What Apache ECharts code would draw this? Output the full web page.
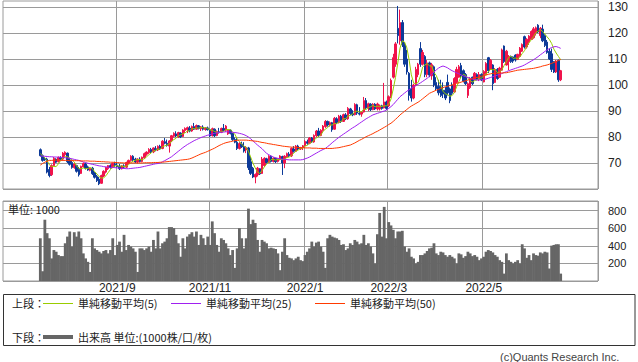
<!DOCTYPE html>
<html><head><meta charset="utf-8">
<script src="https://cdn.jsdelivr.net/npm/echarts@6/dist/echarts.min.js"></script>
<style>html,body{margin:0;padding:0;background:#fff}#c{width:638px;height:362px}</style>
</head><body><div id="c"></div>
<script>
// Trading days per month (Tokyo market calendar)
const tradingMonths = [
  ['2021/7', [12,13,14,15,16,19,20,21,26,27,28,29,30]],
  ['2021/8', [2,3,4,5,6,10,11,12,13,16,17,18,19,20,23,24,25,26,27,30,31]],
  ['2021/9', [1,2,3,6,7,8,9,10,13,14,15,16,17,21,22,24,27,28,29,30]],
  ['2021/10',[1,4,5,6,7,8,11,12,13,14,15,18,19,20,21,22,25,26,27,28,29]],
  ['2021/11',[1,2,4,5,8,9,10,11,12,15,16,17,18,19,22,24,25,26,29,30]],
  ['2021/12',[1,2,3,6,7,8,9,10,13,14,15,16,17,20,21,22,23,24,27,28,29,30]],
  ['2022/1', [4,5,6,7,11,12,13,14,17,18,19,20,21,24,25,26,27,28,31]],
  ['2022/2', [1,2,3,4,7,8,9,10,14,15,16,17,18,21,22,24,25,28]],
  ['2022/3', [1,2,3,4,7,8,9,10,11,14,15,16,17,18,22,23,24,25,28,29,30,31]],
  ['2022/4', [1,4,5,6,7,8,11,12,13,14,15,18,19,20,21,22,25,26,27,28]],
  ['2022/5', [2,6,9,10,11,12,13,16,17,18,19,20,23,24,25,26,27,30,31]],
  ['2022/6', [1,2,3,6,7,8,9,10,13,14,15,16,17,20,21,22]]
];
const labelMonths = ['2021/9','2021/11','2022/1','2022/3','2022/5'];
const emptySlotsBefore = 16, emptySlotsAfter = 16;

const openP = [
75.1,72.8,71.6,71.5,67.5,65.5,69.0,71.5,70.5,72.0,
71.5,73.2,73.8,71.2,70.2,68.2,69.0,67.5,66.0,68.5,
69.6,68.5,67.2,68.0,66.2,64.8,63.8,62.2,65.0,66.5,
67.8,69.0,68.3,69.5,69.2,68.8,67.8,68.9,68.4,70.0,
71.0,72.6,71.5,70.4,71.5,70.6,72.0,73.4,74.0,75.2,
74.3,75.5,75.0,76.4,75.6,78.2,77.6,76.5,78.5,80.3,
81.2,80.0,81.5,80.2,82.5,82.8,83.4,82.3,84.0,83.0,
84.3,83.2,83.8,82.9,83.5,82.8,80.5,83.0,80.6,82.0,
81.8,83.3,82.6,81.2,82.6,81.4,79.0,78.0,75.6,77.3,
76.4,75.0,75.8,70.5,68.0,64.6,65.5,67.8,66.0,69.0,
71.6,70.2,72.6,70.6,71.8,70.6,71.5,72.5,70.0,72.4,
73.4,72.8,75.4,74.5,76.5,75.4,75.9,76.6,78.2,77.6,
79.6,78.1,80.5,82.3,80.6,82.5,84.0,86.0,84.6,85.5,
83.0,87.0,85.6,88.0,86.0,88.5,87.0,90.8,89.0,88.6,
92.4,89.2,88.8,89.6,94.0,91.2,92.6,90.5,92.6,90.8,
90.8,92.0,91.2,93.5,92.0,95.5,103.0,108.0,121.8,117.0,
124.0,115.5,110.0,104.5,98.5,95.0,100.0,104.0,114.0,108.0,
111.0,104.0,108.5,103.5,107.0,101.0,99.5,99.0,98.0,98.0,
101.0,98.5,100.0,97.3,101.0,103.0,107.5,105.5,104.0,96.0,
99.0,103.0,102.0,104.0,102.2,104.0,101.2,104.0,110.5,106.0,
107.7,101.0,106.0,103.0,105.7,115.0,107.7,109.0,111.0,110.8,
111.5,109.8,111.0,113.0,118.6,114.6,116.5,117.5,118.2,120.0,
123.0,119.0,121.5,119.0,116.5,113.0,112.0,109.0,105.0,109.5,
102.0];
const highP = [
75.6,73.3,72.3,72.0,68.5,69.5,72.3,71.8,72.5,72.6,
74.2,74.5,74.0,72.0,71.0,70.0,69.3,68.5,69.0,70.2,
70.1,69.0,68.2,68.5,66.5,65.4,64.6,65.5,67.2,68.5,
69.2,69.5,70.2,70.5,70.3,69.6,69.2,69.5,70.5,71.3,
73.0,73.0,72.0,71.8,72.2,72.5,74.0,74.5,75.7,75.8,
76.0,76.5,76.8,77.0,78.8,79.6,79.0,78.8,80.8,81.8,
82.2,82.0,81.8,83.0,83.7,84.0,84.2,84.4,85.4,84.8,
84.6,84.2,84.5,83.8,84.0,83.2,83.6,83.3,82.5,83.5,
83.6,85.0,84.6,83.0,82.9,81.6,79.8,79.6,78.0,78.2,
78.0,76.5,76.2,72.3,68.5,66.0,68.5,68.0,72.3,72.2,
72.0,73.0,73.0,72.2,72.0,71.8,73.0,72.8,73.0,74.0,
74.2,76.0,76.5,76.9,77.0,76.2,76.9,78.8,79.0,80.0,
80.0,81.0,82.7,83.5,83.0,84.6,86.5,86.3,86.0,85.8,
87.7,87.6,88.5,88.5,89.0,89.2,91.5,91.2,90.3,93.0,
92.8,91.5,90.0,95.4,95.0,93.2,93.0,93.0,93.0,93.2,
92.5,92.4,100.8,94.0,96.0,102.5,112.0,116.5,130.4,129.0,
125.0,116.5,113.5,105.0,102.0,100.5,107.0,108.5,116.5,113.5,
111.5,109.6,109.0,108.5,107.5,103.0,102.0,102.0,101.0,99.2,
104.0,99.0,101.0,103.0,107.0,107.7,108.5,106.0,104.6,101.0,
103.0,103.2,105.0,104.5,105.0,104.5,105.7,108.8,110.8,110.0,
108.0,106.5,106.5,107.0,114.0,115.2,113.5,111.5,111.3,111.0,
111.8,112.0,114.6,116.0,119.0,118.0,119.2,121.0,122.3,122.5,
123.4,122.3,123.2,119.5,117.3,114.0,114.0,109.2,109.6,109.8,
105.8];
const lowP = [
72.5,70.5,70.8,66.0,64.5,65.0,68.8,70.0,70.2,71.2,
71.0,72.4,70.0,69.0,67.8,67.8,66.3,64.8,65.8,68.3,
67.5,67.0,66.8,65.4,64.0,62.7,61.5,62.0,64.6,66.0,
67.3,67.8,68.0,68.5,68.2,67.3,67.5,68.0,68.0,69.5,
70.5,70.8,70.0,69.8,70.2,70.3,71.5,72.8,73.5,73.8,
73.8,74.5,74.6,75.0,75.3,77.2,76.3,74.0,78.0,79.8,
80.0,79.6,79.6,80.0,81.5,81.5,81.8,82.0,82.7,82.8,
82.9,82.3,82.5,82.4,82.5,80.0,80.2,80.0,80.3,81.3,
81.5,82.2,82.0,80.8,81.0,78.5,77.6,75.0,75.2,75.8,
74.0,73.8,67.3,65.4,64.2,62.2,64.8,65.4,65.8,68.5,
69.8,70.0,70.2,70.2,70.0,70.2,71.0,65.4,68.0,72.0,
72.3,72.3,74.0,74.2,75.0,75.0,75.0,75.7,77.0,77.2,
77.7,77.8,80.0,80.0,80.3,82.0,83.5,84.0,84.0,82.0,
82.8,85.0,85.2,85.4,85.8,86.5,86.6,88.5,88.0,88.3,
88.5,88.3,87.8,89.4,90.6,90.0,90.0,90.3,90.4,90.2,
90.2,90.5,91.0,90.4,91.5,95.0,102.5,107.0,116.0,115.5,
114.6,107.0,104.0,94.0,93.6,94.5,99.5,103.0,107.0,107.5,
103.0,103.0,103.0,102.0,99.2,98.0,96.0,95.4,95.0,94.2,
96.0,93.0,96.0,97.0,100.8,102.8,102.7,101.0,100.0,95.0,
98.5,100.0,101.8,101.8,101.5,101.5,101.0,103.8,104.6,105.8,
98.0,100.8,102.0,102.8,105.5,108.5,107.5,105.7,108.5,108.5,
109.0,109.6,110.8,112.7,114.0,114.0,115.4,117.3,117.8,119.0,
120.0,118.0,116.5,114.6,112.0,109.6,105.0,104.6,104.6,101.2,
101.5];
const closeP = [
72.8,71.0,71.2,66.5,65.2,69.0,71.8,70.3,72.2,71.6,
73.8,74.1,70.5,69.5,68.3,69.6,66.8,65.5,68.7,69.8,
68.0,67.3,67.9,65.9,64.5,63.2,62.0,65.2,66.8,68.3,
69.0,68.3,69.8,69.2,68.6,67.8,68.9,68.4,70.2,71.0,
72.6,71.2,70.4,71.5,70.6,72.2,73.6,74.2,75.2,74.3,
75.8,75.0,76.4,75.4,78.4,77.6,76.8,78.5,80.5,81.4,
80.4,81.7,80.1,82.7,83.3,83.6,82.3,84.0,83.0,84.4,
83.3,83.9,83.0,83.5,82.8,80.4,83.2,80.5,82.1,81.8,
83.3,82.6,84.2,82.6,81.4,79.0,78.0,75.6,77.5,76.2,
74.6,76.0,68.2,66.0,64.6,65.6,68.0,65.8,71.5,71.8,
70.2,72.6,70.6,71.8,70.5,71.5,72.7,70.0,72.6,73.6,
72.8,75.6,74.5,76.5,75.4,75.9,76.6,78.3,77.6,79.6,
78.1,80.6,82.3,80.6,82.6,84.2,86.0,84.6,85.5,82.8,
87.2,85.6,88.0,86.0,88.6,87.0,91.0,89.0,88.5,92.5,
89.2,88.8,89.6,94.0,91.2,92.8,90.5,92.6,90.8,92.7,
92.0,91.0,93.5,91.0,95.5,101.8,110.5,115.8,119.0,124.0,
115.5,108.0,105.0,96.0,95.0,100.0,106.0,108.0,108.0,112.5,
104.0,108.5,103.8,107.8,100.0,98.6,97.0,96.0,96.5,95.0,
97.0,94.0,96.8,102.5,106.0,107.0,103.5,101.5,100.5,100.5,
102.5,100.5,104.5,102.2,104.0,102.0,105.2,108.3,105.5,109.5,
100.5,106.0,102.5,106.5,113.5,109.0,113.0,111.0,109.0,109.2,
109.6,111.8,114.2,115.6,114.6,117.6,118.8,120.6,121.6,122.0,
120.4,121.8,117.0,115.2,112.5,110.0,106.0,105.0,109.2,102.0,
105.5];
const volume = [
486,111,697,544,486,257,352,333,295,283,
283,429,505,563,391,555,505,563,486,314,
257,218,103,486,371,352,333,314,341,352,
314,352,486,295,410,448,333,525,352,410,
391,371,333,103,371,371,352,371,391,333,
467,371,563,371,429,448,486,613,613,601,
525,429,276,486,371,505,532,555,505,563,
410,525,486,410,505,410,678,544,410,333,
486,467,429,371,295,352,149,371,601,486,
371,486,823,647,697,659,467,333,467,448,
429,371,379,371,364,314,123,333,486,295,
264,257,237,257,276,237,226,295,333,371,
448,391,437,
448,391,333,149,486,525,505,494,486,467,
410,418,352,371,429,410,467,448,418,429,
525,410,429,391,314,199,532,774,505,843,
486,670,632,582,486,563,563,571,391,333,
371,276,257,199,218,295,295,314,341,371,
379,429,314,295,333,325,295,276,295,276,
257,199,314,303,264,283,333,314,283,295,
276,237,257,276,333,352,341,325,295,276,
237,218,84,314,237,218,199,218,237,199,
418,371,264,295,237,314,295,288,325,314,
333,325,142,402,410,418,418,84];
const ma5 = [
73.6,72.8,72.0,70.8,69.3,68.6,68.7,68.6,69.7,71.0,
71.9,72.4,72.4,71.9,71.2,70.4,68.9,67.9,67.8,68.1,
67.8,67.9,68.3,67.8,66.7,65.8,64.7,64.2,64.3,65.1,
66.3,67.5,68.4,68.9,69.0,68.7,68.9,68.6,68.8,69.3,
70.2,70.7,71.1,71.3,71.3,71.2,71.7,72.4,73.2,73.9,
74.6,74.9,75.3,75.4,76.2,76.6,76.9,77.3,78.4,79.0,
79.5,80.5,80.8,81.3,81.6,82.3,82.4,83.2,83.2,83.5,
83.4,83.7,83.5,83.6,83.3,82.7,82.6,82.1,81.8,81.6,
82.2,82.1,82.8,82.9,82.8,82.0,81.0,79.3,78.3,77.3,
76.4,76.0,74.5,72.2,69.9,68.1,66.5,66.0,67.1,68.5,
69.5,70.4,71.3,71.4,71.1,71.4,71.4,71.3,71.5,72.1,
72.3,72.9,73.8,74.6,75.0,75.6,75.8,76.5,76.8,77.6,
78.0,78.8,79.6,80.2,80.8,82.1,83.1,83.6,84.6,84.6,
85.2,85.1,85.8,85.9,87.1,87.0,88.1,88.3,88.8,89.6,
90.0,89.6,89.7,90.8,90.6,91.3,91.6,92.2,91.6,91.9,
91.7,91.8,92.0,92.0,92.6,94.6,98.5,102.9,108.5,114.2,
117.0,116.5,114.3,109.7,103.9,100.8,100.4,101.0,103.4,106.9,
107.7,108.2,107.4,107.3,104.8,103.7,101.4,99.9,97.6,96.6,
96.3,95.7,95.9,97.1,99.3,101.3,103.2,104.1,103.7,102.6,
101.7,101.1,101.7,102.0,102.7,102.6,103.6,104.3,105.0,106.1,
105.8,106.0,104.8,105.0,105.8,107.5,108.9,110.6,111.1,110.2,
110.4,110.1,110.8,112.1,113.2,114.8,116.2,117.4,118.6,120.1,
120.7,121.3,120.6,119.6,118.5,117.5,116.0,113.8,112.3,111.0,
109.7];
const ma25 = [
72.7,72.6,72.6,72.5,72.4,72.4,72.3,72.3,72.2,72.2,72.1,72.0,71.9,
71.8,71.6,71.4,71.2,71.0,70.7,70.4,70.2,69.9,
69.7,69.5,69.3,69.1,68.9,68.8,68.6,68.5,68.4,68.3,68.3,68.2,
68.1,68.0,67.9,67.9,67.8,67.8,67.9,68.0,68.1,68.2,68.3,
68.5,68.7,68.9,69.1,69.3,69.5,69.7,69.8,70.0,
70.5,70.9,71.4,71.9,72.4,
73.1,73.8,74.5,75.2,75.9,76.5,77.1,77.6,
78.1,78.6,79.0,79.4,79.8,80.1,
80.4,80.7,80.9,81.2,81.4,81.6,81.7,81.8,81.9,82.0,
82.0,81.9,81.8,81.7,81.6,81.4,81.2,80.9,80.5,80.0,
79.3,78.5,77.7,76.9,76.2,75.5,74.6,73.7,
73.2,72.7,72.3,72.0,71.8,71.6,
71.5,71.4,71.3,71.2,71.2,71.2,71.2,71.2,71.2,71.3,
71.6,71.9,72.3,72.8,73.3,73.8,74.3,74.8,75.2,75.6,
76.3,77.0,77.8,78.5,79.2,79.9,
80.5,81.1,81.7,82.3,82.9,83.5,84.0,84.6,
85.2,85.8,86.4,87.0,87.5,88.0,88.5,
88.8,89.1,89.4,89.7,90.0,90.4,
91.0,91.7,92.5,93.5,94.5,95.5,
96.2,96.9,97.6,98.2,98.8,99.3,
99.8,100.3,100.8,101.4,102.0,102.6,
103.4,104.2,105.0,105.8,106.5,107.0,107.3,
107.0,106.6,106.0,105.5,105.1,
104.7,104.3,103.9,103.5,103.2,
102.9,102.6,102.3,102.1,101.9,
101.9,102.0,102.1,102.3,102.6,
102.9,103.2,103.5,103.8,
104.1,104.4,104.8,105.1,105.5,105.8,
106.1,106.4,106.7,107.0,107.3,107.7,
108.2,108.7,109.2,109.7,110.3,110.9,
111.6,112.2,112.9,113.5,
114.0,114.4,114.7,114.8,114.5,114.1];
const ma50 = [
69.2,69.8,70.3,70.7,
71.0,71.0,71.1,71.1,71.1,71.0,71.0,71.0,71.0,70.9,70.9,70.9,70.9,70.9,70.8,70.8,70.8,70.8,70.7,70.7,70.7,70.6,70.6,70.5,70.5,70.4,70.4,
70.3,70.3,70.2,70.2,70.1,70.1,70.0,70.0,70.0,70.0,70.0,70.0,70.0,70.0,70.0,70.1,70.1,70.1,70.1,70.2,70.2,70.2,70.3,70.3,70.4,
70.5,70.6,70.7,70.8,70.9,71.0,71.1,71.2,71.3,71.4,71.6,
71.9,72.3,72.7,73.1,73.5,73.8,74.1,74.5,
74.9,75.3,75.7,76.2,76.7,77.1,77.5,
77.8,78.0,78.2,78.4,78.6,78.7,78.8,
78.8,78.8,78.8,78.7,78.6,
78.5,78.4,78.3,78.1,77.9,77.8,77.6,
77.4,77.3,77.1,77.0,76.8,76.7,76.5,
76.4,76.3,76.2,76.1,76.1,76.0,76.0,75.9,
75.9,75.8,75.8,75.8,75.7,75.7,75.7,75.6,75.6,75.6,75.6,75.6,75.6,75.6,
75.7,75.8,75.9,76.1,76.3,76.5,76.7,76.9,
77.3,77.7,78.2,78.7,79.1,79.6,80.1,
80.5,80.9,81.3,81.8,82.2,82.7,
83.2,83.7,84.2,84.8,85.3,
86.0,86.8,87.6,88.5,
89.2,89.9,90.6,91.3,
91.9,92.4,92.9,93.4,94.0,
94.7,95.4,96.1,96.8,
97.2,97.6,98.0,98.3,98.7,
99.0,99.3,99.5,99.8,100.0,
100.3,100.6,100.8,101.1,101.4,101.6,101.9,
102.2,102.4,102.7,102.9,103.2,
103.4,103.6,103.8,104.1,104.3,104.5,
104.5,104.5,104.6,104.6,104.7,104.7,
104.9,105.1,105.3,105.5,105.7,105.8,
105.9,106.0,106.1,106.2,106.3,106.4,
106.6,106.8,107.0,107.3,107.5,107.7,
108.0,108.3,108.7,109.0,
109.4,109.8];

// ---- build categories ----
const dates = [];
tradingMonths.forEach(([ym, days]) => days.forEach(d => dates.push(ym + '/' + d)));
const categories = [];
for (let i = 0; i < emptySlotsBefore; i++) categories.push('pre' + i);
dates.forEach(d => categories.push(d));
for (let i = 0; i < emptySlotsAfter; i++) categories.push('post' + i);
const markIdx = new Set(labelMonths.map(m => categories.indexOf(m + '/' + tradingMonths.find(t => t[0] === m)[1][0])));
const isMark = (i) => markIdx.has(i);

const UP = '#f0134b', DOWN = '#0d3a98';
const GRID = '#9a9a9a';
const candleData = dates.map((d, i) => [d, openP[i], closeP[i], lowP[i], highP[i]]);
const pair = arr => dates.map((d, i) => [d, arr[i]]);

const checks = {openP, highP, lowP, closeP, volume, ma5, ma25, ma50};
const errs = Object.entries(checks).filter(([k, v]) => v.length !== dates.length).map(([k, v]) => k + '=' + v.length);

const JP = '"Noto Sans CJK JP", "Noto Sans CJK SC", sans-serif';
const NUM = '"Liberation Sans", Arial, sans-serif';
const legendY1 = 303, legendY2 = 337;

const chart = echarts.init(document.getElementById('c'), null, {renderer: 'svg', width: 638, height: 362});
const option = {
  animation: false,
  backgroundColor: '#ffffff',
  grid: [
    {left: 3, top: 7, width: 595, height: 182, show: false, outerBoundsMode: 'none'},
    {left: 3, top: 1, width: 595, height: 188, show: true, borderColor: GRID, borderWidth: 1, backgroundColor: 'transparent', outerBoundsMode: 'none'},
    {left: 3, top: 201, width: 595, height: 80, show: true, borderColor: GRID, borderWidth: 1, backgroundColor: 'transparent', outerBoundsMode: 'none'}
  ],
  xAxis: [
    {type: 'category', gridIndex: 0, data: categories, axisLine: {show: false}, axisTick: {show: false}, axisLabel: {show: false}, splitLine: {show: false}},
    {type: 'category', gridIndex: 1, data: categories, axisLine: {show: false}, axisTick: {show: false}, axisLabel: {show: false},
      splitLine: {show: true, interval: isMark, lineStyle: {color: GRID, width: 1}}},
    {type: 'category', gridIndex: 2, data: categories, axisLine: {show: false}, axisTick: {show: false},
      axisLabel: {show: true, interval: isMark, formatter: v => v.split('/').slice(0, 2).join('/'), fontSize: 12, color: '#222', margin: 1, fontFamily: NUM},
      splitLine: {show: true, interval: isMark, lineStyle: {color: GRID, width: 1}}}
  ],
  yAxis: [
    {type: 'value', gridIndex: 0, position: 'right', min: 60, max: 130, interval: 10,
      axisLine: {show: false}, axisTick: {show: false},
      axisLabel: {showMinLabel: false, fontSize: 12, color: '#222', margin: 10, fontFamily: NUM},
      splitLine: {show: true, lineStyle: {color: GRID, width: 1}}},
    {type: 'value', gridIndex: 1, min: 0, max: 1, show: false, splitLine: {show: false}},
    {type: 'value', gridIndex: 2, position: 'right', min: 0, max: 910, interval: 200,
      axisLine: {show: false}, axisTick: {show: false},
      axisLabel: {showMinLabel: false, showMaxLabel: false, fontSize: 11, color: '#222', margin: 10, fontFamily: NUM},
      splitLine: {show: true, lineStyle: {color: GRID, width: 1}}}
  ],
  series: [
    {type: 'candlestick', name: 'price', xAxisIndex: 0, yAxisIndex: 0, data: candleData, encode: {x: 0, y: [1, 2, 3, 4]},
      barWidth: 2, itemStyle: {color: UP, color0: DOWN, borderColor: UP, borderColor0: DOWN, borderWidth: 1}, z: 2},
    {type: 'line', name: '単純移動平均(5)', xAxisIndex: 0, yAxisIndex: 0, data: pair(ma5), symbol: 'none', lineStyle: {width: 1, color: '#99cc00'}, itemStyle: {color: '#99cc00'}, z: 3},
    {type: 'line', name: '単純移動平均(25)', xAxisIndex: 0, yAxisIndex: 0, data: pair(ma25), symbol: 'none', lineStyle: {width: 1, color: '#a020f0'}, itemStyle: {color: '#a020f0'}, z: 3},
    {type: 'line', name: '単純移動平均(50)', xAxisIndex: 0, yAxisIndex: 0, data: pair(ma50), symbol: 'none', lineStyle: {width: 1, color: '#ff3a00'}, itemStyle: {color: '#ff3a00'}, z: 3},
    {type: 'bar', name: '出来高', xAxisIndex: 2, yAxisIndex: 2, data: pair(volume), barWidth: 2.8, itemStyle: {color: '#666666'}}
  ],
  graphic: [
    {type: 'text', x: 8, y: 209, z: 10, style: {text: '単位: 1000', font: '11px ' + JP, fill: '#222', verticalAlign: 'middle', textVerticalAlign: 'middle'}},
    {type: 'rect', shape: {x: 3.5, y: 294.5, width: 631.5, height: 51}, style: {fill: 'none', stroke: '#333', lineWidth: 1}},
    {type: 'text', x: 12, y: legendY1, style: {text: '上段：', font: '11px ' + JP, fill: '#222', verticalAlign: 'middle', textVerticalAlign: 'middle'}},
    {type: 'line', shape: {x1: 43, y1: legendY1 + 0.5, x2: 73, y2: legendY1 + 0.5}, style: {stroke: '#99cc00', lineWidth: 1}},
    {type: 'text', x: 78, y: legendY1, style: {text: '単純移動平均(5)', font: '11px ' + JP, fill: '#222', verticalAlign: 'middle', textVerticalAlign: 'middle'}},
    {type: 'line', shape: {x1: 171, y1: legendY1 + 0.5, x2: 201, y2: legendY1 + 0.5}, style: {stroke: '#a020f0', lineWidth: 1}},
    {type: 'text', x: 206, y: legendY1, style: {text: '単純移動平均(25)', font: '11px ' + JP, fill: '#222', verticalAlign: 'middle', textVerticalAlign: 'middle'}},
    {type: 'line', shape: {x1: 315, y1: legendY1 + 0.5, x2: 345, y2: legendY1 + 0.5}, style: {stroke: '#ff3a00', lineWidth: 1}},
    {type: 'text', x: 350, y: legendY1, style: {text: '単純移動平均(50)', font: '11px ' + JP, fill: '#222', verticalAlign: 'middle', textVerticalAlign: 'middle'}},
    {type: 'text', x: 12, y: legendY2, style: {text: '下段：', font: '11px ' + JP, fill: '#222', verticalAlign: 'middle', textVerticalAlign: 'middle'}},
    {type: 'line', shape: {x1: 43, y1: legendY2, x2: 73, y2: legendY2}, style: {stroke: '#666666', lineWidth: 4}},
    {type: 'text', x: 78, y: legendY2, style: {text: '出来高 単位:(1000株/口/枚)', font: '11px ' + JP, fill: '#222', verticalAlign: 'middle', textVerticalAlign: 'middle'}},
    {type: 'text', x: 500, y: 357, style: {text: '(c)Quants Research Inc.', font: '11px ' + NUM, fill: '#444', verticalAlign: 'middle', textVerticalAlign: 'middle'}}
  ].concat(errs.length ? [{type: 'text', x: 100, y: 100, z: 100, style: {text: 'LEN ' + errs.join(' '), font: 'bold 14px sans-serif', fill: 'red'}}] : [])
};
chart.setOption(option);
</script>
</body></html>
